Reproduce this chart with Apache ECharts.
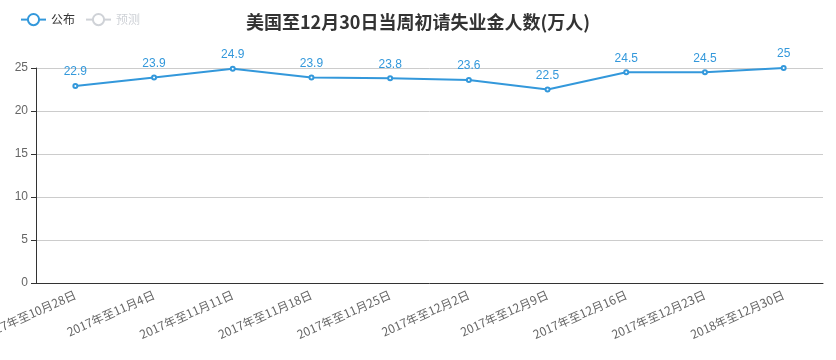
<!DOCTYPE html>
<html><head><meta charset="utf-8">
<script src="https://cdn.jsdelivr.net/npm/echarts@6/dist/echarts.min.js"></script>
<style>html,body{margin:0;padding:0;background:#fff}#c{width:836px;height:360px}</style>
</head><body><div id="c"></div>
<script>
const categories = ['2017年至10月28日','2017年至11月4日','2017年至11月11日','2017年至11月18日','2017年至11月25日','2017年至12月2日','2017年至12月9日','2017年至12月16日','2017年至12月23日','2018年至12月30日'];
const published = [22.9, 23.9, 24.9, 23.9, 23.8, 23.6, 22.5, 24.5, 24.5, 25];
const forecast = [];
const chart = echarts.init(document.getElementById('c'));
chart.setOption({
  animation: false,
  title: { text: '美国至12月30日当周初请失业金人数(万人)', left: 'center', top: 8,
    textStyle: { fontSize: 18, fontWeight: 'bold', color: '#333', fontFamily: 'Noto Sans CJK SC' } },
  legend: { left: 15, top: 8, itemGap: 10, itemWidth: 25, data: ['公布','预测'],
    selected: { '预测': false }, textStyle: { color: '#333', fontSize: 12, fontFamily: 'Noto Sans CJK SC' } },
  grid: { left: 36, right: 13, top: 68, bottom: 77, outerBoundsMode: 'none', containLabel: false },
  xAxis: { type: 'category', data: categories, boundaryGap: true,
    axisLine: { lineStyle: { color: '#333' } },
    axisTick: { lineStyle: { color: '#333' } },
    axisLabel: { rotate: 24, margin: 11, interval: 0, color: '#666', fontSize: 12, fontFamily: 'Noto Sans CJK SC' } },
  yAxis: { type: 'value', min: 0, max: 25, interval: 5,
    axisLine: { show: true, lineStyle: { color: '#333' } },
    axisTick: { show: true, lineStyle: { color: '#333' } },
    axisLabel: { color: '#666', fontSize: 12 },
    splitLine: { lineStyle: { color: '#ccc' } } },
  series: [
    { name: '公布', type: 'line', data: published, symbol: 'emptyCircle', symbolSize: 4,
      itemStyle: { color: '#3398DB' }, lineStyle: { width: 2, color: '#3398DB' },
      label: { show: true, position: 'top', color: '#3398DB', fontSize: 12 } },
    { name: '预测', type: 'line', data: forecast, symbol: 'emptyCircle', itemStyle: { color: '#ccc' } }
  ]
});
</script></body></html>
